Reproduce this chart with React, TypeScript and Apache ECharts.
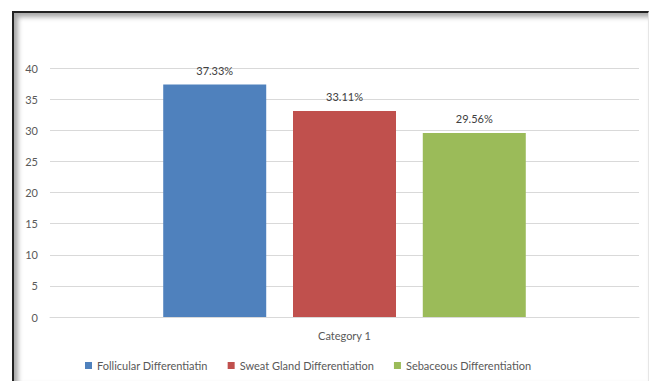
import React, { useEffect, useRef } from "react";
import * as echarts from "echarts";

const categories = ["Category 1"];
const seriesNames = [
  "Follicular Differentiatin",
  "Sweat Gland Differentiation",
  "Sebaceous Differentiation",
];
const seriesValues = [[37.33], [33.11], [29.56]];
const seriesColors = ["#4F81BD", "#C0504D", "#9BBB59"];
const yTicks = { min: 0, max: 40, interval: 5 };

const FONT = "Lato";
const TEXT = "#595959";

export default function App() {
  const ref = useRef<HTMLDivElement>(null);
  useEffect(() => {
    if (!ref.current) return;
    const chart = echarts.init(ref.current, null, { renderer: "svg" });
    chart.setOption({
      animation: false,
      backgroundColor: "transparent",
      textStyle: { fontFamily: FONT },
      grid: { left: 50, right: 10, top: 68, bottom: 64 },
      legend: {
        bottom: 10,
        left: 85,
        padding: 0,
        icon: "rect",
        itemWidth: 7,
        itemHeight: 7,
        itemGap: 20,
        textStyle: { color: TEXT, fontSize: 11, fontFamily: FONT },
        data: seriesNames,
      },
      xAxis: {
        type: "category",
        data: categories,
        axisLine: { lineStyle: { color: "#D9D9D9" } },
        axisTick: { show: false },
        axisLabel: { color: TEXT, fontSize: 11, margin: 13, fontFamily: FONT },
      },
      yAxis: {
        type: "value",
        min: yTicks.min,
        max: yTicks.max,
        interval: yTicks.interval,
        axisLine: { show: false },
        axisTick: { show: false },
        axisLabel: { color: TEXT, fontSize: 11, margin: 12, fontFamily: FONT },
        splitLine: { lineStyle: { color: "#D9D9D9" } },
      },
      series: seriesNames.map((name, i) => ({
        name,
        type: "bar",
        data: seriesValues[i],
        barWidth: 103,
        barGap: "26%",
        itemStyle: { color: seriesColors[i] },
        label: {
          show: true,
          position: "top",
          distance: 9,
          color: "#404040",
          fontSize: 11,
          fontFamily: FONT,
          formatter: (p: any) => p.value.toFixed(2) + "%",
        },
      })),
    });
    return () => chart.dispose();
  }, []);

  return (
    <div
      style={{
        position: "absolute",
        left: 0,
        top: 0,
        width: 649,
        height: 381,
        background: "#fff",
        overflow: "hidden",
      }}
    >
      <div
        style={{
          position: "absolute",
          left: 12,
          top: 11,
          width: 634,
          height: 368,
          borderLeft: "2px solid #222",
          borderTop: "2px solid #222",
          borderRight: "1px solid #e6e6e6",
          borderBottom: "1px solid #e6e6e6",
          boxShadow: "inset 4px 4px 5px rgba(0,0,0,0.35)",
        }}
      />
      <div
        ref={ref}
        style={{ position: "absolute", left: 0, top: 0, width: 649, height: 381 }}
      />
    </div>
  );
}
